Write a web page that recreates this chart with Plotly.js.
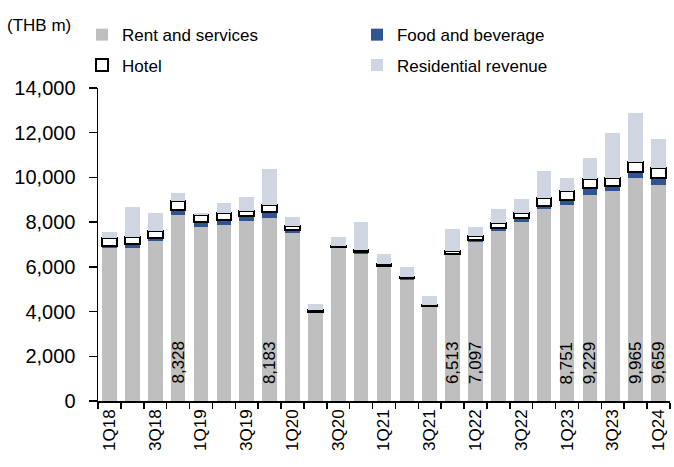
<!DOCTYPE html>
<html>
<head>
<meta charset="utf-8">
<script src="https://cdn.plot.ly/plotly-3.0.1.min.js"></script>
<style>html,body{margin:0;padding:0;background:#fff;}#chart{width:674px;height:467px;}</style>
</head>
<body>
<div id="chart"></div>
<script>
var quarters = ['1Q18','2Q18','3Q18','4Q18','1Q19','2Q19','3Q19','4Q19','1Q20','2Q20','3Q20','4Q20','1Q21','2Q21','3Q21','4Q21','1Q22','2Q22','3Q22','4Q22','1Q23','2Q23','3Q23','4Q23','1Q24'];
var tickLabels = ['1Q18','','3Q18','','1Q19','','3Q19','','1Q20','','3Q20','','1Q21','','3Q21','','1Q22','','3Q22','','1Q23','','3Q23','','1Q24'];
var rentServices = [6830, 6830, 7170, 8328, 7800, 7870, 8065, 8183, 7510, 3960, 6830, 6560, 6010, 5410, 4220, 6513, 7097, 7620, 7990, 8600, 8751, 9229, 9400, 9965, 9659];
var foodBeverage = [118, 190, 110, 200, 220, 225, 210, 260, 120, 30, 50, 90, 40, 70, 30, 60, 100, 130, 190, 130, 250, 290, 210, 290, 300];
var hotel = [360, 300, 330, 400, 300, 300, 240, 310, 210, 80, 40, 90, 60, 80, 50, 150, 200, 200, 230, 360, 370, 390, 370, 450, 480];
var residential = [240, 1370, 820, 370, 100, 475, 625, 1620, 400, 270, 430, 1250, 450, 440, 400, 990, 400, 640, 630, 1190, 610, 980, 1990, 2160, 1270];
var barLabels = ['', '', '', '8,328', '', '', '', '8,183', '', '', '', '', '', '', '', '6,513', '7,097', '', '', '', '8,751', '9,229', '', '9,965', '9,659'];

var FONT = 'Liberation Sans, Arial, sans-serif';

var traces = [
  {type:'bar', name:'Rent and services', x:quarters, y:rentServices, marker:{color:'#BFBFBF'}, legend:'legend', hoverinfo:'skip'},
  {type:'bar', name:'Food and beverage', x:quarters, y:foodBeverage, marker:{color:'#2F5491'}, legend:'legend', hoverinfo:'skip'},
  {type:'bar', name:'Hotel', x:quarters, y:hotel, marker:{color:'#FFFFFF', line:{color:'#000000', width:2}}, legend:'legend2', hoverinfo:'skip'},
  {type:'bar', name:'Residential revenue', x:quarters, y:residential, marker:{color:'#CFD6E2'}, legend:'legend2', hoverinfo:'skip'}
];

var annotations = [];
for (var i = 0; i < quarters.length; i++) {
  if (barLabels[i]) {
    annotations.push({x:quarters[i], y:0, xref:'x', yref:'y', text:barLabels[i], showarrow:false,
      textangle:-90, yanchor:'bottom', xanchor:'center', yshift:15, font:{family:FONT, size:17, color:'#000'}});
  }
}
annotations.push({xref:'paper', yref:'paper', x:-0.162, y:1.201, xanchor:'left', yanchor:'middle',
  text:'(THB m)', showarrow:false, font:{family:FONT, size:17, color:'#000'}});

var legendCommon = {orientation:'h', xanchor:'left', yanchor:'middle', entrywidth:230, entrywidthmode:'pixels',
  font:{family:FONT, size:17, color:'#000'}, bgcolor:'rgba(0,0,0,0)', borderwidth:0, traceorder:'normal'};

var layout = {
  width:674, height:467,
  margin:{l:98, r:4, t:88, b:66},
  paper_bgcolor:'#fff', plot_bgcolor:'#fff',
  barmode:'stack', bargap:0.36,
  font:{family:FONT, size:17, color:'#000'},
  showlegend:true,
  legend:Object.assign({x:-0.028, y:1.169}, legendCommon),
  legend2:Object.assign({x:-0.028, y:1.072}, legendCommon),
  xaxis:{type:'category', tickmode:'array', tickvals:quarters, ticktext:tickLabels, tickangle:-90,
    tickson:'boundaries', ticks:'outside', ticklen:6, tickwidth:1.5, tickcolor:'#000',
    showline:true, linecolor:'#000', linewidth:1.5, showgrid:false, zeroline:false,
    tickfont:{family:FONT, size:17, color:'#000'}},
  yaxis:{range:[0,14000], tickmode:'linear', tick0:0, dtick:2000, tickformat:',d',
    ticks:'outside', ticklen:8, tickwidth:1.5, tickcolor:'#000', ticklabelstandoff:9,
    showline:true, linecolor:'#000', linewidth:1.5, showgrid:false, zeroline:false,
    tickfont:{family:FONT, size:20, color:'#000'}},
  annotations:annotations
};

Plotly.newPlot('chart', traces, layout, {displayModeBar:false, staticPlot:true});
</script>
</body>
</html>
